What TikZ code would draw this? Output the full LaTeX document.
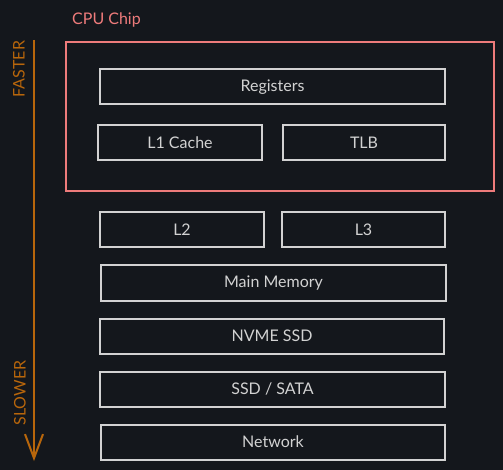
\documentclass[tikz,border=0pt]{standalone}
\usepackage{fontspec}
\setmainfont{Lato}
\usetikzlibrary{arrows.meta}
\definecolor{bg}{HTML}{14171C}
\definecolor{chipred}{HTML}{EE7B7B}
\definecolor{speed}{HTML}{B8660B}
\definecolor{boxline}{HTML}{D2D2D2}
\begin{document}
\begin{tikzpicture}[x=1pt,y=-1pt]
                \tikzstyle{mem}=[rectangle, draw=boxline, line width=2pt, text=boxline, font=\fontsize{16}{18}\selectfont, minimum height=35pt, inner sep=0pt]
                \tikzstyle{side}=[rotate=90, text=speed, font=\fontsize{16}{18}\selectfont]

                \fill[bg] (0,0) rectangle (503,470);
                \useasboundingbox (0,0) rectangle (503,470);

                \node[draw=chipred, line width=2pt, minimum width=428pt, minimum height=149pt, inner sep=0pt] (chip) at (280,116.5) {};
                \node[text=chipred, font=\fontsize{16}{18}\selectfont, anchor=west, inner sep=0pt] (chiplabel) at (72,20) {CPU Chip};

                \node[mem, minimum width=345pt] (reg) at (272.5,87) {Registers};
                \node[mem, minimum width=164pt] (l1) at (180,143) {L1 Cache};
                \node[mem, minimum width=162pt] (tlb) at (364,143) {TLB};
                \node[mem, minimum width=164pt] (l2) at (182,229.5) {L2};
                \node[mem, minimum width=163pt] (l3) at (363.5,229.5) {L3};
                \node[mem, minimum width=345pt] (ram) at (273.5,283) {Main Memory};
                \node[mem, minimum width=344pt] (nvme) at (272,336) {NVME SSD};
                \node[mem, minimum width=345pt] (sata) at (272.5,389) {SSD / SATA};
                \node[mem, minimum width=344pt] (net) at (273,442) {Network};

                \coordinate (top) at (34,40);
                \coordinate (bottom) at (34,461);
                \draw[speed, line width=2pt, -{Straight Barb[length=24pt, width=18pt, line width=2pt]}] (top) -- (bottom);
                \node[side] (fast) at (19,69) {FASTER};
                \node[side] (slow) at (20,393) {SLOWER};
            \end{tikzpicture}
\end{document}
